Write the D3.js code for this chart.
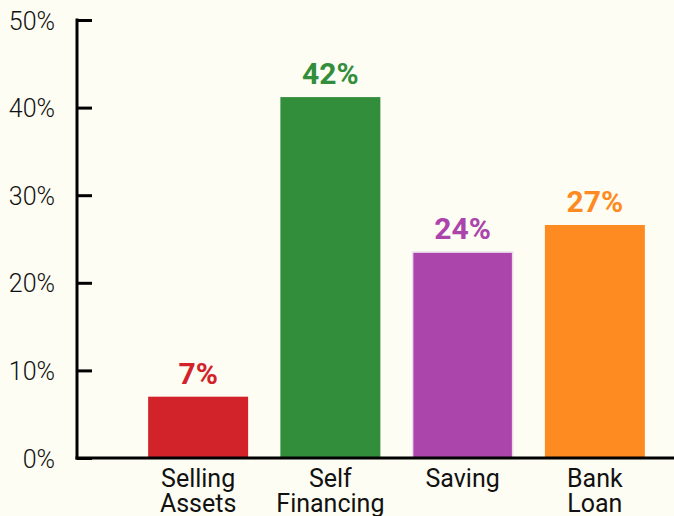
<!DOCTYPE html>
<html>
<head>
<meta charset="utf-8">
<script src="https://cdn.jsdelivr.net/npm/d3@7/dist/d3.min.js"></script>
<style>
  html, body { margin: 0; padding: 0; background: #fdfdf3; }
  svg { display: block; font-family: Roboto, "Noto Sans", sans-serif; }
</style>
</head>
<body>
<svg id="chart" width="674" height="516"></svg>
<script>
// chart data
const categories = [["Selling", "Assets"], ["Self", "Financing"], ["Saving"], ["Bank", "Loan"]];
const values = [7.0, 41.2, 23.5, 26.6];
const valueLabels = ["7%", "42%", "24%", "27%"];
const colors = ["#d2232b", "#338e3c", "#ab44ab", "#fe8a22"];
const yTicks = [0, 10, 20, 30, 40, 50];

const svg = d3.select("#chart");
const x0 = 77, yBase = 458, yTop = 20;

const x = d3.scaleBand()
    .domain(d3.range(values.length))
    .range([132, 661])
    .paddingInner(0.244)
    .paddingOuter(0.122);

const y = d3.scaleLinear().domain([0, 50]).range([yBase, yTop]);

// y axis
const yAxis = d3.axisLeft(y)
    .tickValues(yTicks)
    .tickSize(-15)
    .tickPadding(22)
    .tickFormat(d => d + "%");

const gy = svg.append("g").attr("transform", `translate(${x0},0)`).call(yAxis);
gy.select(".domain").remove();
gy.selectAll(".tick line").attr("stroke", "#000").attr("stroke-width", 3);
gy.selectAll(".tick text")
    .attr("fill", "#111")
    .attr("font-size", 25)
    .attr("font-weight", 300)
    .attr("font-family", "Roboto, sans-serif")
    .attr("dy", "0.36em");

// bars
svg.append("g").selectAll("rect")
    .data(values)
    .join("rect")
    .attr("x", (d, i) => x(i))
    .attr("y", d => y(d))
    .attr("width", x.bandwidth())
    .attr("height", d => yBase - y(d))
    .attr("fill", (d, i) => colors[i])
    .attr("stroke", (d, i) => i === 2 ? "#eadcea" : "none")
    .attr("stroke-width", 1.5);

// value labels
svg.append("g").selectAll("text")
    .data(values)
    .join("text")
    .attr("x", (d, i) => x(i) + x.bandwidth() / 2)
    .attr("y", d => y(d) - 13)
    .attr("text-anchor", "middle")
    .attr("font-size", 30)
    .attr("font-weight", 700)
    .attr("fill", (d, i) => colors[i])
    .text((d, i) => valueLabels[i]);

// axis lines
svg.append("line").attr("x1", x0).attr("x2", x0).attr("y1", yTop - 1.5).attr("y2", yBase + 1.5)
    .attr("stroke", "#000").attr("stroke-width", 3);
svg.append("line").attr("x1", x0 - 1.5).attr("x2", 674).attr("y1", yBase).attr("y2", yBase)
    .attr("stroke", "#000").attr("stroke-width", 3);

// category labels
const cat = svg.append("g").selectAll("text")
    .data(categories)
    .join("text")
    .attr("text-anchor", "middle")
    .attr("font-size", 25)
    .attr("fill", "#111");
cat.each(function(lines, i) {
    d3.select(this).selectAll("tspan")
        .data(lines)
        .join("tspan")
        .attr("x", x(i) + x.bandwidth() / 2)
        .attr("y", (d, j) => yBase + 29 + j * 25)
        .text(d => d);
});
</script>
</body>
</html>
